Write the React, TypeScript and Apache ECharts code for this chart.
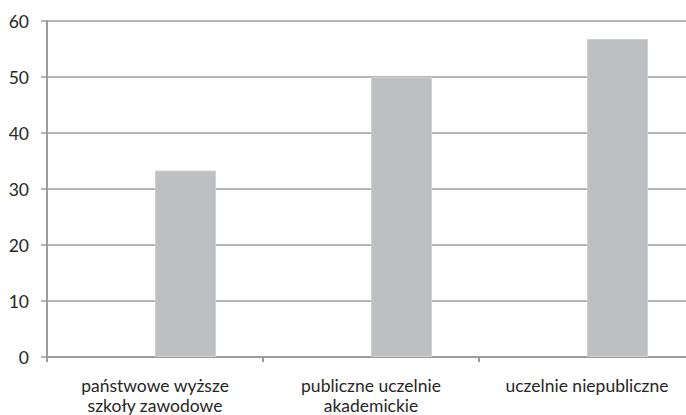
import React, { useEffect, useRef } from "react";
import * as echarts from "echarts";

// Categories of higher-education institutions
const categories: string[] = [
  "państwowe wyższe\nszkoły zawodowe",
  "publiczne uczelnie\nakademickie",
  "uczelnie niepubliczne",
];

// Empty companion series (keeps the visible bars offset to the right of centre)
const emptySeries: (number | null)[] = [null, null, null];

// Values shown as grey bars
const values: number[] = [33.3, 50, 56.8];

// Value-axis ticks
const yMin = 0;
const yMax = 60;
const yStep = 10;

const FONT = "Lato, 'Open Sans', sans-serif";
const LINE = "#9c9c9c";
const TEXT = "#262626";

// The plot runs slightly past the visible frame on the right, so the chart
// canvas is wider than the frame that clips it.
const FRAME_W = 686;
const FRAME_H = 415;
const CANVAS_W = 710;

export default function App() {
  const ref = useRef<HTMLDivElement>(null);

  useEffect(() => {
    if (!ref.current) return;
    const chart = echarts.init(ref.current, undefined, { renderer: "svg" });
    chart.setOption({
      animation: false,
      backgroundColor: "#ffffff",
      grid: { left: 47, right: CANVAS_W - 695, top: 21, bottom: 58, containLabel: false },
      xAxis: {
        type: "category",
        data: categories,
        axisLine: { show: true, lineStyle: { color: LINE, width: 2 } },
        axisTick: { show: true, length: 5, lineStyle: { color: LINE, width: 2 } },
        axisLabel: {
          color: TEXT,
          fontFamily: FONT,
          fontSize: 17.5,
          lineHeight: 20,
          margin: 18,
          interval: 0,
        },
        splitLine: { show: false },
      },
      yAxis: {
        type: "value",
        min: yMin,
        max: yMax,
        interval: yStep,
        axisLine: { show: true, lineStyle: { color: LINE, width: 2 } },
        axisTick: { show: true, length: 6, lineStyle: { color: LINE, width: 1.5 } },
        axisLabel: {
          color: TEXT,
          fontFamily: FONT,
          fontSize: 17.5,
          margin: 18,
        },
        splitLine: { show: true, lineStyle: { color: LINE, width: 1.5 } },
      },
      series: [
        {
          type: "bar",
          data: emptySeries,
          barGap: "0%",
          barCategoryGap: "43.5%",
          itemStyle: { color: "transparent" },
        },
        {
          type: "bar",
          data: values,
          barGap: "0%",
          barCategoryGap: "43.5%",
          itemStyle: { color: "#bfc0c2", borderColor: "#cfd0d2", borderWidth: 1 },
        },
      ],
    });
    return () => chart.dispose();
  }, []);

  return (
    <div
      style={{
        position: "absolute",
        left: 0,
        top: 0,
        width: FRAME_W,
        height: FRAME_H,
        overflow: "hidden",
        background: "#ffffff",
      }}
    >
      <div ref={ref} style={{ width: CANVAS_W, height: FRAME_H }} />
    </div>
  );
}
